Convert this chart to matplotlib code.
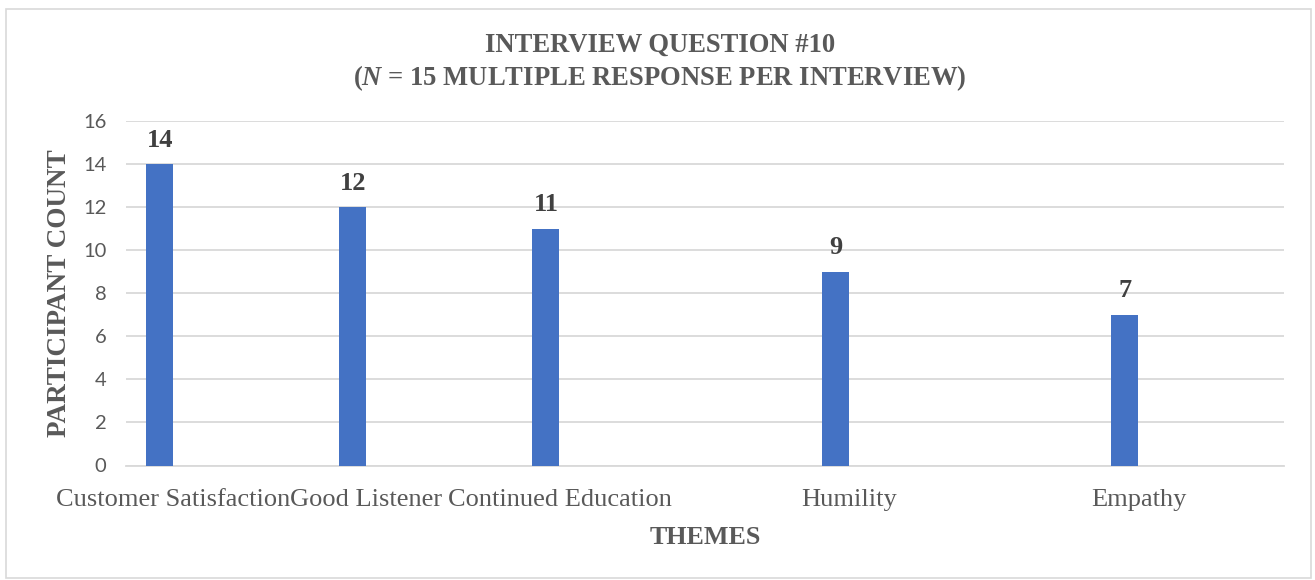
import matplotlib
matplotlib.use("Agg")
import matplotlib.pyplot as plt
from matplotlib.patches import Rectangle

# ---- data ----
themes = ["Customer Satisfaction", "Good Listener", "Continued Education", "Humility", "Empathy"]
counts = [14, 12, 11, 9, 7]
y_ticks = [0, 2, 4, 6, 8, 10, 12, 14, 16]
title_line1 = "INTERVIEW QUESTION #10"
title_line2 = r"($\mathit{N}$ = 15 MULTIPLE RESPONSE PER INTERVIEW)"
x_label = "THEMES"
y_label = "PARTICIPANT COUNT"

# ---- style ----
serif = "Liberation Serif"
plt.rcParams["mathtext.fontset"] = "custom"
plt.rcParams["mathtext.rm"] = "Liberation Serif:bold"
plt.rcParams["mathtext.it"] = "Liberation Serif:italic:bold"
plt.rcParams["mathtext.bf"] = "Liberation Serif:bold"

bar_color = "#4472C4"
grid_color = "#D9D9D9"
text_gray = "#595959"
label_dark = "#404040"

fig = plt.figure(figsize=(13.15, 5.8), dpi=100)
fig.patch.set_facecolor("white")
fig.patches.append(Rectangle((6 / 1315, 2 / 580), 1305 / 1315, 569 / 580,
                             transform=fig.transFigure, fill=False,
                             edgecolor=grid_color, linewidth=1.2))

ax = fig.add_axes([126 / 1315, 1 - 465.5 / 580, (1284 - 126) / 1315, (465.5 - 121) / 580])

# category slots: uneven spacing as in the original
slot_gap = [0, 1, 1, 1.5, 1.5]
pos = []
acc = 0
for g in slot_gap:
    acc += g
    pos.append(acc)

bar_w = 0.14
# bar sits left of the category centre (first of a two-series cluster)
ax.bar(pos, counts, width=-bar_w, align="edge", color=bar_color, zorder=3)
for x, v in zip(pos, counts):
    ax.annotate(str(v), (x - bar_w / 2, v), xytext=(0, 9), textcoords="offset points",
                ha="center", va="bottom", fontsize=19, fontweight="bold",
                family=serif, color=label_dark)

ax.set_xlim(-0.246, 5.754)
ax.set_ylim(0, 16)
ax.set_yticks(y_ticks)
ax.set_yticklabels([str(t) for t in y_ticks], family="Lato", fontsize=14.5, color=text_gray)
ax.set_xticks(pos)
ax.set_xticklabels(themes, family=serif, fontsize=19, color=text_gray)
ax.tick_params(axis="both", length=0)
ax.tick_params(axis="y", pad=14)
ax.tick_params(axis="x", pad=17)

ax.grid(axis="y", color=grid_color, linewidth=1.3, zorder=0)
ax.set_axisbelow(True)
for s in ["top", "right", "left"]:
    ax.spines[s].set_visible(False)
ax.spines["bottom"].set_color(grid_color)
ax.spines["bottom"].set_linewidth(1.3)

ax.set_xlabel(x_label, family=serif, fontweight="bold", fontsize=18.7, color=text_gray, labelpad=11)
ax.set_ylabel(y_label, family=serif, fontweight="bold", fontsize=19.5, color=text_gray, labelpad=8)

fig.text(0.502, 1 - 45 / 580, title_line1, ha="center", va="center", family=serif,
         fontweight="bold", fontsize=19.2, color=text_gray)
fig.text(0.502, 1 - 78 / 580, title_line2, ha="center", va="center", family=serif,
         fontweight="bold", fontsize=19.2, color=text_gray)

fig.savefig("out.png", dpi=100, facecolor="white")
